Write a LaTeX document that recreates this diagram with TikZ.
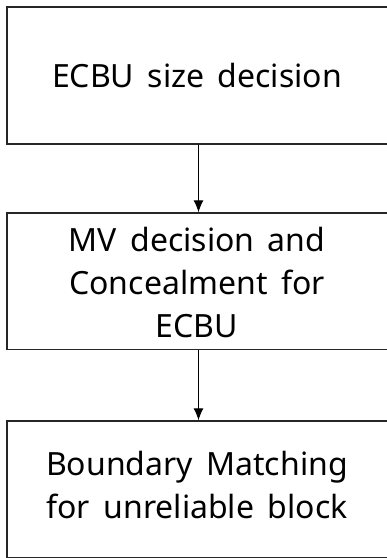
\documentclass[tikz,border=0pt]{standalone}
\usepackage{fontspec}
\setmainfont{Noto Sans}
\usetikzlibrary{arrows.meta}
% step text: large sans with slightly wider word gaps
\newcommand\stepfont{\fontsize{32}{43}\selectfont\spaceskip=13.5pt plus 2pt minus 1pt\relax}
\begin{document}
\begin{tikzpicture}[x=1pt,y=-1pt,
  stepbox/.style={draw=black!85, line width=1.4pt, rectangle, minimum width=383pt,
    inner sep=0pt},
  steptext/.style={inner sep=0pt, align=center, font=\stepfont},
  flow/.style={draw=black, line width=1.1pt, -{Latex[length=12pt,width=10pt]}}]
  \useasboundingbox[fill=white] (0,0) rectangle (387,558);
  % the three process boxes (right side runs past the page edge)
  \node[stepbox, minimum height=137pt] (size) at (198.5,75.5) {};
  \node[stepbox, minimum height=136.5pt] (mv) at (198.5,281.25) {};
  \node[stepbox, minimum height=136.5pt] (bm) at (198.5,489.25) {};
  % their texts
  \node[steptext] (sizetext) at (197,75.9) {ECBU size decision};
  \node[steptext] (mvtext) at (197,282.9) {MV decision and\\Concealment for\\ECBU};
  \node[steptext] (bmtext) at (197,485.4) {Boundary Matching\\for unreliable block};
  % connectors
  \draw[flow] (size.south) -- (mv.north);
  \draw[flow] (mv.south) -- (bm.north);
\end{tikzpicture}
\end{document}
